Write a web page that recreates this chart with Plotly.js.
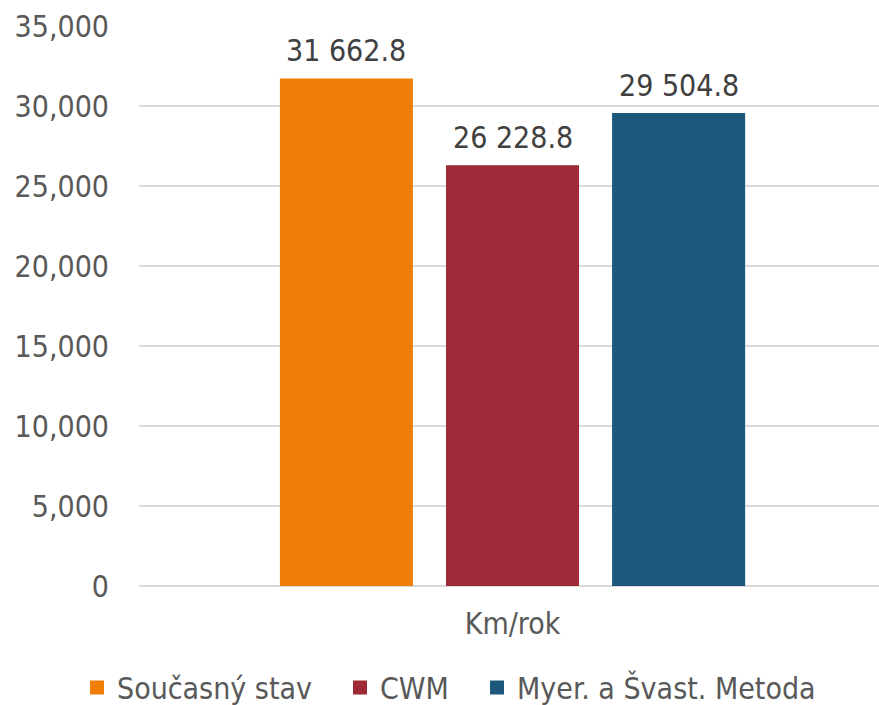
<!DOCTYPE html>
<html>
<head>
<meta charset="utf-8">
<script src="https://cdn.plot.ly/plotly-3.0.1.min.js"></script>
<style>html,body{margin:0;padding:0;background:#fff;}#chart{width:879px;height:705px;}</style>
</head>
<body>
<div id="chart"></div>
<script>
var categories = ["Km/rok"];
var seriesNames = ["Současný stav", "CWM", "Myer. a Švast. Metoda"];
var seriesValues = [[31662.8], [26228.8], [29504.8]];
var seriesColors = ["#F07F09", "#9F2936", "#1B587C"];
var yTickVals = [0, 5000, 10000, 15000, 20000, 25000, 30000, 35000];

var FONT = '"DejaVu Sans Condensed", "DejaVu Sans", sans-serif';
var BARGAP = 0.333;
var BARGROUPGAP = 0.211;
var legendIds = ['legend', 'legend2', 'legend3'];
var legendX = [-0.0838, 0.2716, 0.4568];

function fmtLabel(v) {
  var parts = v.toFixed(1).split('.');
  parts[0] = parts[0].replace(/\B(?=(\d{3})+(?!\d))/g, ' ');
  return parts.join('.');
}

var nSeries = seriesNames.length;
var slot = (1 - BARGAP) / nSeries;

var traces = seriesNames.map(function (name, i) {
  return {
    type: 'bar',
    name: name,
    legend: legendIds[i],
    x: categories,
    y: seriesValues[i],
    marker: {color: seriesColors[i], line: {width: 2, color: seriesColors[i]}},
    hoverinfo: 'none'
  };
});

var annotations = [];
seriesNames.forEach(function (name, i) {
  seriesValues[i].forEach(function (v, j) {
    annotations.push({
      xref: 'x', yref: 'y',
      x: j + (i - (nSeries - 1) / 2) * slot,
      y: v,
      text: fmtLabel(v),
      showarrow: false,
      xanchor: 'center',
      yanchor: 'bottom',
      yshift: 9,
      font: {family: FONT, size: 30, color: '#404040'}
    });
  });
});

var layout = {
  width: 879,
  height: 705,
  margin: {l: 139, r: 0, t: 26, b: 119, autoexpand: false},
  paper_bgcolor: '#fff',
  plot_bgcolor: '#fff',
  font: {family: FONT, size: 30, color: '#595959'},
  barmode: 'group',
  bargap: BARGAP,
  bargroupgap: BARGROUPGAP,
  showlegend: true,
  annotations: annotations,
  xaxis: {
    type: 'category',
    range: [-0.5, 0.4906],
    showgrid: false,
    zeroline: false,
    showline: false,
    ticks: '',
    ticklabelstandoff: 17,
    tickfont: {family: FONT, size: 30, color: '#595959'},
    fixedrange: true
  },
  yaxis: {
    range: [0, 35000],
    tickvals: yTickVals,
    tickformat: ',d',
    showgrid: true,
    gridcolor: '#d9d9d9',
    gridwidth: 2,
    zeroline: true,
    zerolinecolor: '#d9d9d9',
    zerolinewidth: 2,
    showline: false,
    ticks: '',
    ticklabelstandoff: 29,
    tickfont: {family: FONT, size: 30, color: '#595959'},
    fixedrange: true
  }
};

legendIds.forEach(function (id, i) {
  layout[id] = {
    orientation: 'h',
    xref: 'paper',
    x: legendX[i],
    xanchor: 'left',
    yref: 'container',
    y: 0.0248,
    yanchor: 'middle',
    font: {family: FONT, size: 30, color: '#595959'},
    bgcolor: 'rgba(0,0,0,0)',
    borderwidth: 0
  };
});

Plotly.newPlot('chart', traces, layout, {displayModeBar: false, staticPlot: true});
</script>
</body>
</html>
